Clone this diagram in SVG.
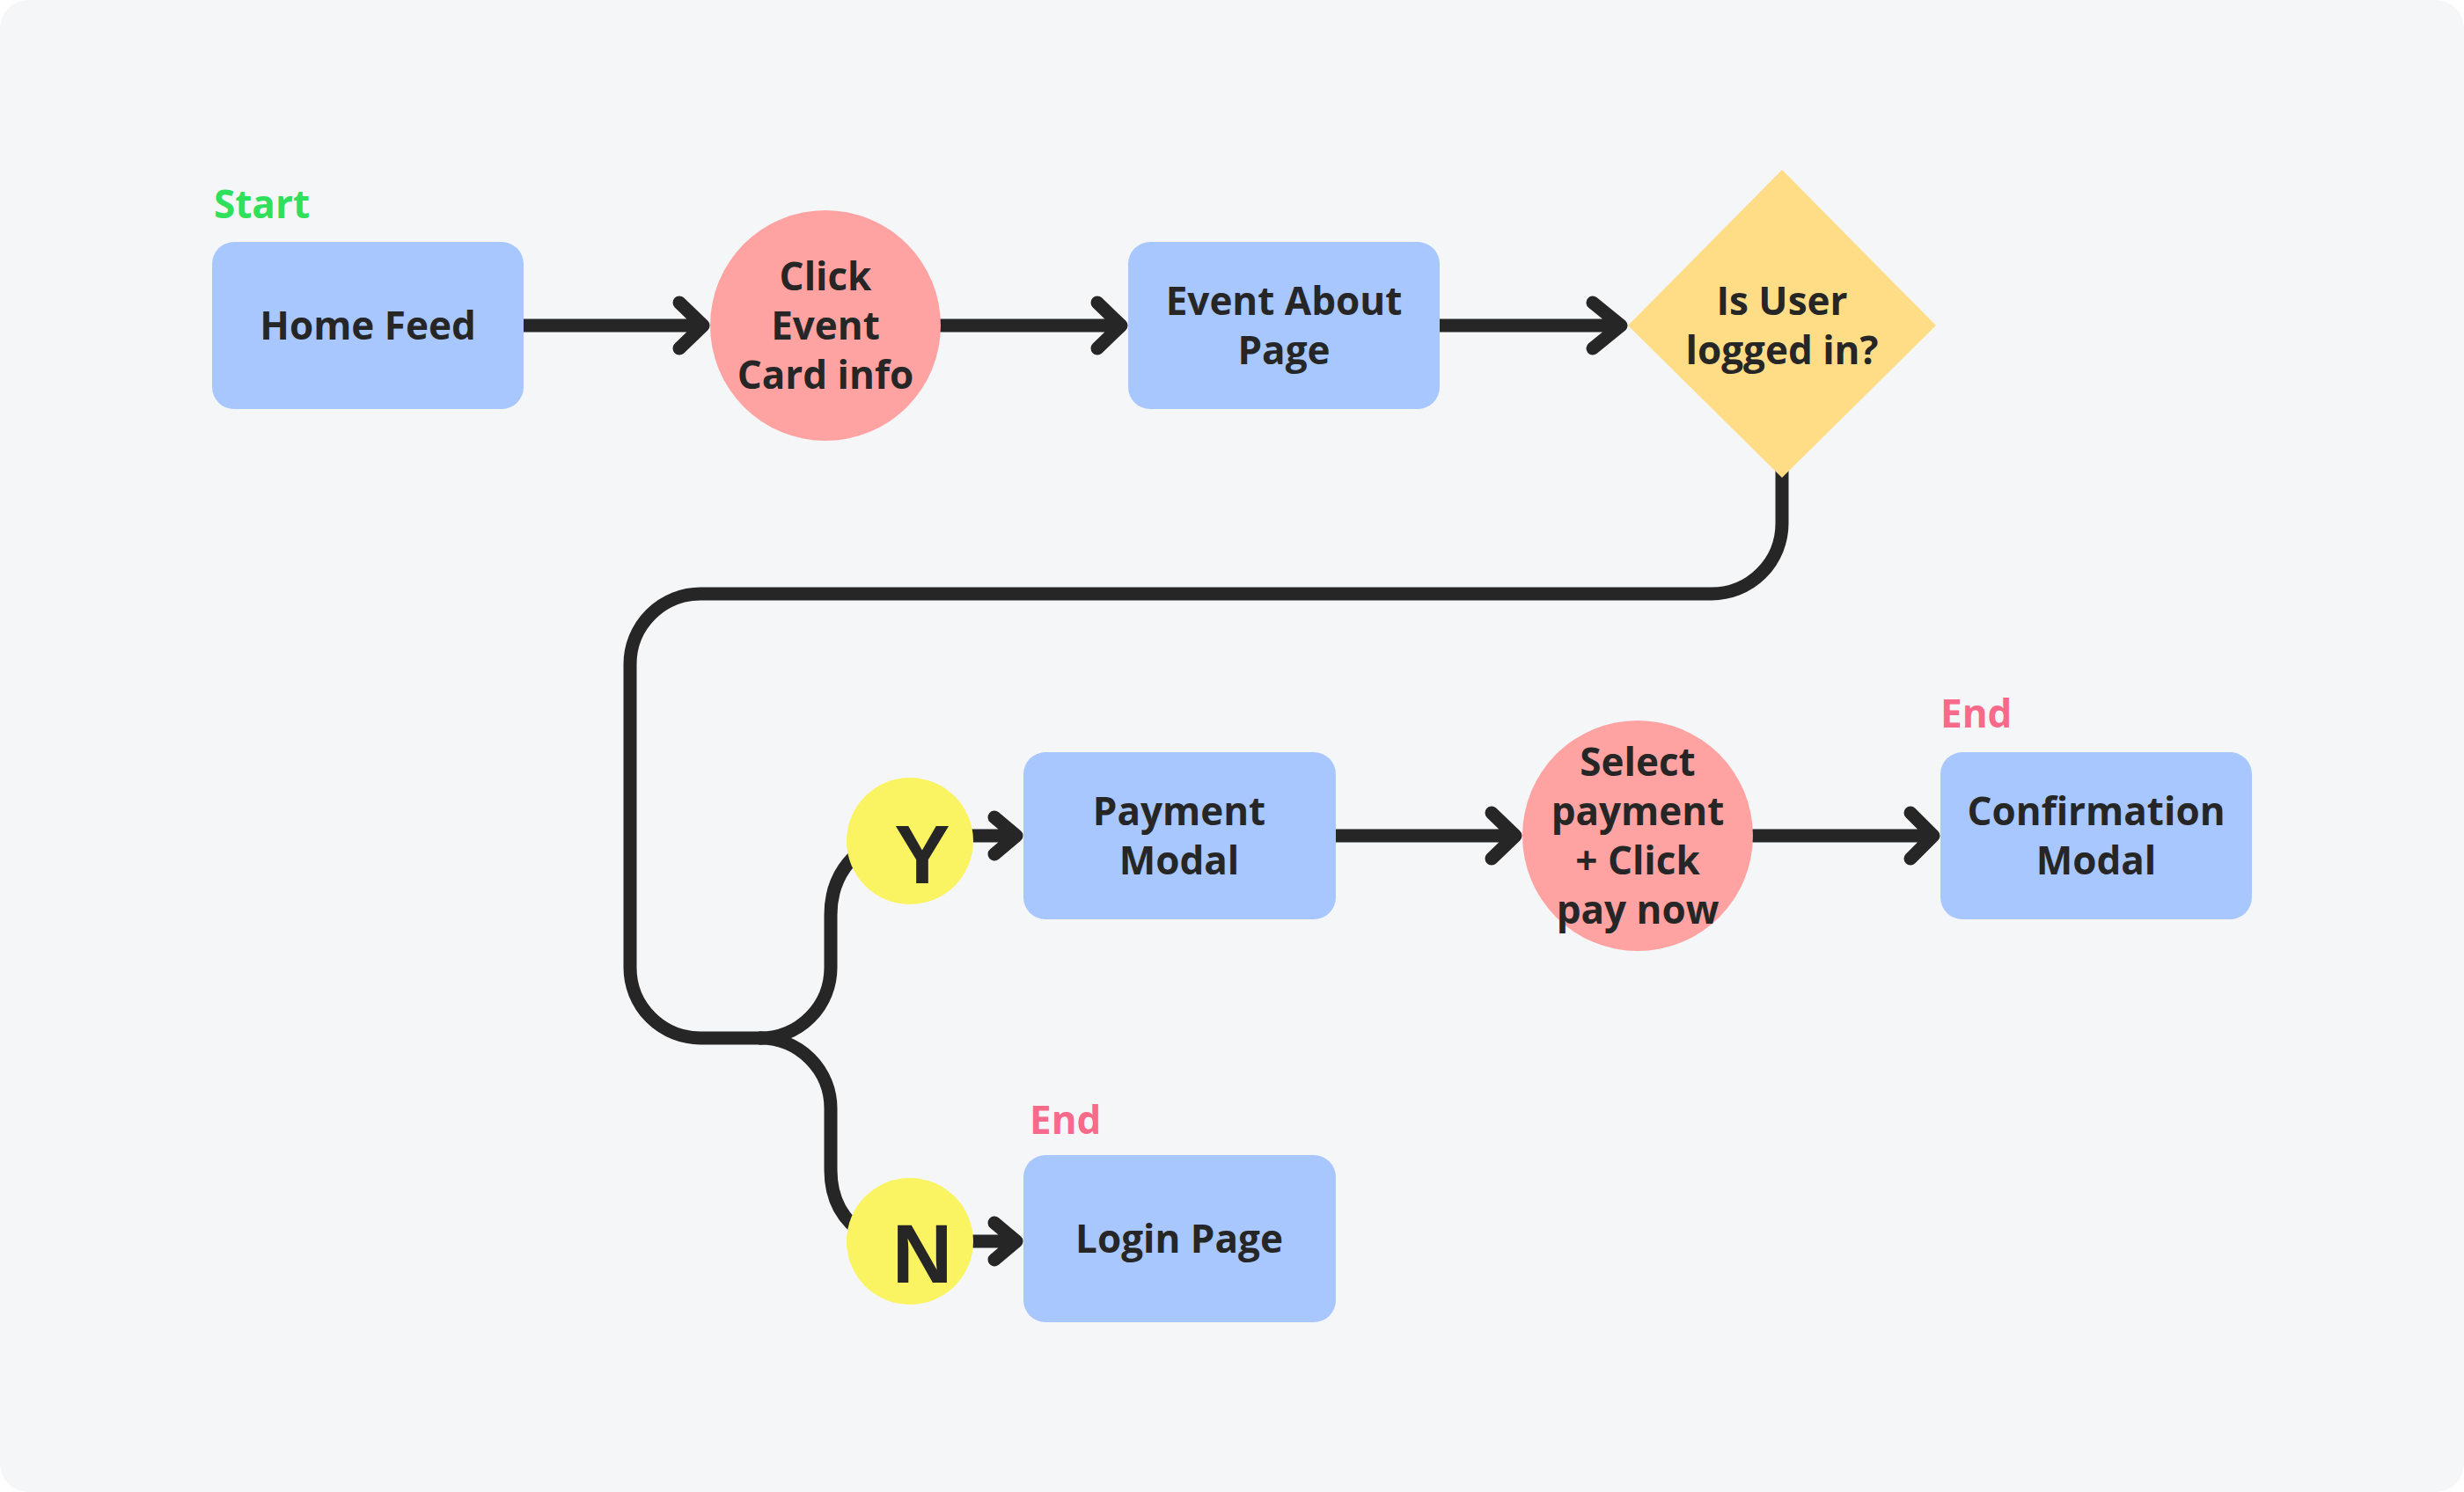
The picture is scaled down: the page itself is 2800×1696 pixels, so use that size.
<svg xmlns="http://www.w3.org/2000/svg" width="2800" height="1696" viewBox="0 0 2800 1696">
  <style>
    .box { fill: #A8C7FE; }
    .act { fill: #FFA3A2; }
    .dec { fill: #FFDD87; }
    .yn { fill: #FAF463; }
    .lbl { font-family: "Open Sans", "Liberation Sans", sans-serif; font-weight: 700; font-size: 44px; fill: #262626; text-anchor: middle; }
    .big { font-family: "Liberation Sans", Arial, sans-serif; font-weight: 700; font-size: 95px; fill: #262626; text-anchor: middle; }
    .start { font-family: "Open Sans", "Liberation Sans", sans-serif; font-weight: 700; font-size: 44px; fill: #2EE05A; }
    .end { font-family: "Open Sans", "Liberation Sans", sans-serif; font-weight: 700; font-size: 44px; fill: #F76A8A; }
    .ln { fill: none; stroke: #262626; stroke-width: 15; stroke-linecap: round; stroke-linejoin: round; }
  </style>
  <rect x="0" y="0" width="2800" height="1696" rx="32" fill="#F5F6F8"/>

  <g id="connectors">
    <path class="ln" d="M 2025 530 L 2025 595 A 80 80 0 0 1 1945 675 L 796 675 A 80 80 0 0 0 716 755 L 716 1100 A 80 80 0 0 0 796 1180 L 864 1180"/>
    <path class="ln" d="M 864 1180 A 80 80 0 0 0 944 1100 L 944 1040 Q 944 990 985 962"/>
    <path class="ln" d="M 864 1180 A 80 80 0 0 1 944 1260 L 944 1330 Q 944 1380 985 1405"/>
    <path class="ln" d="M 595 370 L 799 370 M 772 344 L 799 370 L 772 396"/>
    <path class="ln" d="M 1069 370 L 1274 370 M 1247 344 L 1274 370 L 1247 396"/>
    <path class="ln" d="M 1636 370 L 1842 370 M 1810 344 L 1842 370 L 1810 396"/>
    <path class="ln" d="M 1518 950 L 1722 950 M 1695 924 L 1722 950 L 1695 976"/>
    <path class="ln" d="M 1992 950 L 2197 950 M 2171 924 L 2197 950 L 2171 976"/>
    <path class="ln" d="M 1100 950 L 1155 950 M 1130 929 L 1155 950 L 1130 971"/>
    <path class="ln" d="M 1100 1411 L 1155 1411 M 1130 1390 L 1155 1411 L 1130 1432"/>
  </g>

  <text class="start" x="243" y="248">Start</text>

  <g id="home-feed">
    <rect class="box" x="241" y="275" width="354" height="190" rx="25"/>
    <text class="lbl" x="418" y="386">Home Feed</text>
  </g>

  <g id="click-event-card">
    <circle class="act" cx="938" cy="370" r="131"/>
    <text class="lbl" x="938" y="330">Click</text>
    <text class="lbl" x="938" y="386">Event</text>
    <text class="lbl" x="938" y="442">Card info</text>
  </g>

  <g id="event-about-page">
    <rect class="box" x="1282" y="275" width="354" height="190" rx="25"/>
    <text class="lbl" x="1459" y="358">Event About</text>
    <text class="lbl" x="1459" y="414">Page</text>
  </g>

  <g id="is-user-logged-in">
    <polygon class="dec" points="2025,193 2200,370 2025,543 1850,370"/>
    <text class="lbl" x="2025" y="358">Is User</text>
    <text class="lbl" x="2025" y="414">logged in?</text>
  </g>

  <g id="yes">
    <circle class="yn" cx="1034" cy="956" r="72"/>
    <text class="big" x="1048" y="1004">Y</text>
  </g>

  <g id="no">
    <circle class="yn" cx="1034" cy="1411" r="72"/>
    <text class="big" x="1048" y="1458">N</text>
  </g>

  <g id="payment-modal">
    <rect class="box" x="1163" y="855" width="355" height="190" rx="25"/>
    <text class="lbl" x="1340" y="938">Payment</text>
    <text class="lbl" x="1340" y="994">Modal</text>
  </g>

  <g id="select-payment">
    <circle class="act" cx="1861" cy="950" r="131"/>
    <text class="lbl" x="1861" y="882">Select</text>
    <text class="lbl" x="1861" y="938">payment</text>
    <text class="lbl" x="1861" y="994">+ Click</text>
    <text class="lbl" x="1861" y="1050">pay now</text>
  </g>

  <text class="end" x="2205" y="827">End</text>
  <g id="confirmation-modal">
    <rect class="box" x="2205" y="855" width="354" height="190" rx="25"/>
    <text class="lbl" x="2382" y="938">Confirmation</text>
    <text class="lbl" x="2382" y="994">Modal</text>
  </g>

  <text class="end" x="1170" y="1289">End</text>
  <g id="login-page">
    <rect class="box" x="1163" y="1313" width="355" height="190" rx="25"/>
    <text class="lbl" x="1340" y="1424">Login Page</text>
  </g>
</svg>
